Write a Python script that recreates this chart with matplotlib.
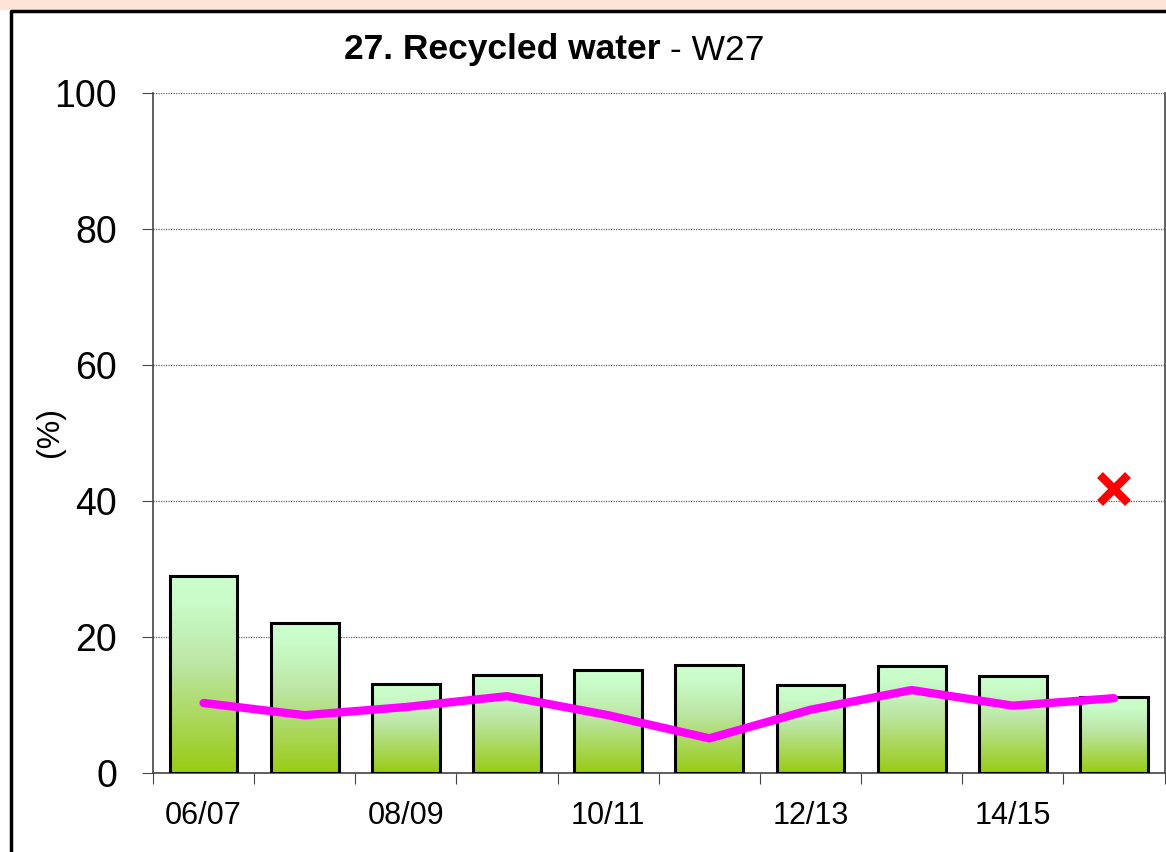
import matplotlib.pyplot as plt
import numpy as np
from matplotlib.colors import LinearSegmentedColormap
from matplotlib.patches import Rectangle

plt.rcParams['font.family'] = ['Liberation Sans', 'DejaVu Sans']

# data
years = ['06/07', '07/08', '08/09', '09/10', '10/11', '11/12', '12/13', '13/14', '14/15', '15/16']
bar_values = [29.0, 22.1, 13.1, 14.4, 15.1, 15.9, 12.9, 15.7, 14.3, 11.2]
line_values = [10.3, 8.5, 9.7, 11.3, 8.5, 5.1, 9.3, 12.2, 9.9, 11.0]
target_index = 9
target_value = 41.8
shown_labels = ['06/07', '', '08/09', '', '10/11', '', '12/13', '', '14/15', '']

fig = plt.figure(figsize=(11.66, 8.52), dpi=100)

# peach strip on top and black frame
fig.patches.append(Rectangle((0, 1 - 10 / 852), 1, 10 / 852, transform=fig.transFigure,
                             facecolor='#fce5d6', edgecolor='none', zorder=0))
fig.lines.append(plt.Line2D([11 / 1166, 11 / 1166, 1.0], [0, 1 - 11 / 852, 1 - 11 / 852],
                            transform=fig.transFigure, color='black', lw=2.5))

ax = fig.add_axes([153 / 1166, 1 - 773 / 852, (1164.5 - 153) / 1166, (773 - 93) / 852])

x = np.arange(len(years))
bars = ax.bar(x, bar_values, width=0.67, facecolor='none', edgecolor='black', linewidth=2.2, zorder=3)

cmap = LinearSegmentedColormap.from_list('grad', [(0, '#98cb14'), (0.55, '#bce6a4'), (0.85, '#c9fbc8'), (1, '#ccffcc')])
grad = np.linspace(0, 1, 256).reshape(-1, 1)
for b in bars:
    x0, w, h = b.get_x(), b.get_width(), b.get_height()
    im = ax.imshow(grad, cmap=cmap, origin='lower', aspect='auto', extent=[x0, x0 + w, 0, h], zorder=2)
    im.set_clip_path(b)

ax.plot(x, line_values, color='#ff00ff', lw=6, solid_capstyle='round', zorder=4)
ax.plot(x[target_index], target_value, marker='x', color='red', markersize=20, mew=6, zorder=5)

ax.set_xlim(-0.5, len(years) - 0.5)
ax.set_ylim(0, 100)
ax.set_yticks(range(0, 101, 20))
ax.yaxis.grid(True, color='#666666', linestyle=(0, (1, 1)), lw=0.9)
ax.set_axisbelow(True)

ax.set_xticks(np.arange(-0.5, len(years), 1))
ax.set_xticklabels([])
ax.set_xticks(x, minor=True)
ax.set_xticklabels(shown_labels, minor=True, fontsize=22)
ax.tick_params(axis='x', which='major', length=8, color='#444444', direction='out')
ax.tick_params(axis='x', which='minor', length=0, pad=20)
ax.tick_params(axis='y', labelsize=27, length=8, color='#444444', pad=18)

ax.spines['top'].set_visible(False)
for side in ['left', 'bottom', 'right']:
    ax.spines[side].set_color('#444444')
    ax.spines[side].set_linewidth(1.2)

fig.text(50 / 1166, 1 - 432 / 852, '(%)', rotation=90, fontsize=23, ha='center', va='center')

t1 = fig.text(344 / 1166, 1 - 50 / 852, '27. Recycled water', fontsize=25.5, fontweight='bold',
              ha='left', va='center')
ax.annotate(' - W27', xy=(1, 0.5), xycoords=t1, fontsize=25.5, ha='left', va='center')

fig.savefig('out.png', dpi=100)
